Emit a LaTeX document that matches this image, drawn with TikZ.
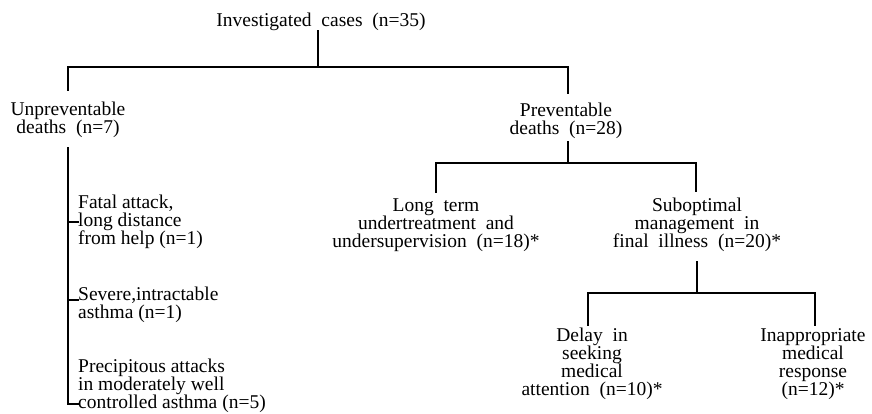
\documentclass[tikz,border=0pt]{standalone}
\usepackage{fontspec}
\setmainfont{Liberation Serif}
\begin{document}
\begin{tikzpicture}[x=1pt,y=-1pt,
  lbl/.style={inner sep=0pt, align=center, font=\fontsize{19.5}{18}\selectfont},
  lbll/.style={lbl, align=left},
  conn/.style={line width=2pt, line cap=rect}]
\useasboundingbox (0,0) rectangle (872,414);
% nodes
\node[lbl] (inv) at (321,22) {Investigated\ \ cases\ \ (n=35)};
\node[lbl] (unp) at (68,120) {Unpreventable\\deaths\ \ (n=7)};
\node[lbl] (prev) at (566,121) {Preventable\\deaths\ \ (n=28)};
\node[lbl] (long) at (436,225) {Long\ \ term\\undertreatment\ \ and\\undersupervision\ \ (n=18)*};
\node[lbl] (sub) at (697,225) {Suboptimal\\management\ \ in\\final\ \ illness\ \ (n=20)*};
\node[lbl] (delay) at (592,364) {Delay\ \ in\\seeking\\medical\\attention\ \ (n=10)*};
\node[lbl] (inapp) at (813,364) {Inappropriate\\medical\\response\\(n=12)*};
\node[lbll, anchor=west] (fatal) at (78,222) {Fatal attack,\\long distance\\from help (n=1)};
\node[lbll, anchor=west] (severe) at (78,305) {Severe,intractable\\asthma (n=1)};
\node[lbll, anchor=west] (precip) at (78,386) {Precipitous attacks\\in moderately well\\controlled asthma (n=5)};
% junction coordinates
\coordinate (j0) at (318,67);
\coordinate (ul) at (68,90);
\coordinate (pr) at (568,93);
\coordinate (pt) at (568,142);
\coordinate (j1) at (568,163);
\coordinate (ld) at (436,192);
\coordinate (sd) at (696,191);
\coordinate (st) at (697,262);
\coordinate (j2) at (697,293);
\coordinate (dd) at (588,325);
\coordinate (id) at (815,325);
\coordinate (lt) at (68,148);
% connectors
\draw[conn] (j0 |- inv.south) -- (j0);
\draw[conn] (ul) -- (ul |- j0) -- (pr |- j0) -- (pr);
\draw[conn] (pt) -- (j1);
\draw[conn] (ld) -- (ld |- j1) -- (sd |- j1) -- (sd);
\draw[conn] (st) -- (j2);
\draw[conn] (dd) -- (dd |- j2) -- (id |- j2) -- (id);
\draw[conn] (lt) -- (lt |- 0,404) -- (precip.west |- 0,404);
\draw[conn] (lt |- fatal.west) -- (fatal.west);
\draw[conn] (lt |- 0,300) -- (severe.west |- 0,300);
\end{tikzpicture}
\end{document}
